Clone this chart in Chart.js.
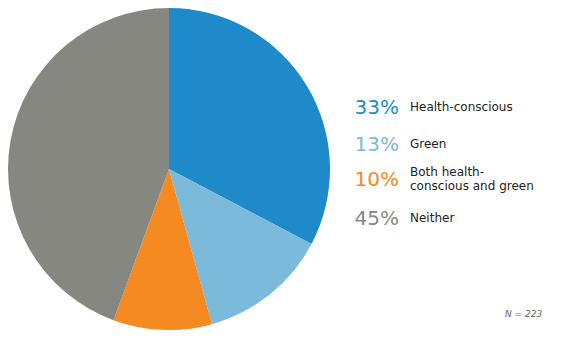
<!DOCTYPE html>
<html>
<head>
<meta charset="utf-8">
<script src="https://cdn.jsdelivr.net/npm/chart.js@4"></script>
<style>
  html, body { margin: 0; padding: 0; background: #fff; }
  body { width: 576px; height: 351px; position: relative; overflow: hidden; font-family: "DejaVu Sans", Verdana, sans-serif; }
  #wrap { position: absolute; left: 0; top: 0; width: 338px; height: 338px; }
  #legend { position: absolute; left: 345px; top: 92px; }
  .row { display: flex; align-items: center; position: absolute; left: 0; white-space: nowrap; }
  .pct { width: 54px; text-align: right; font-size: 20px; margin-right: 11px; }
  .lbl { font-size: 12px; color: #222; line-height: 14px; }
  #note { position: absolute; left: 505px; top: 309px; font-size: 9px; font-style: italic; color: #666; }
</style>
</head>
<body>
<div id="wrap"><canvas id="pieChart"></canvas></div>
<div id="legend"></div>
<div id="note">N = 223</div>
<script>
var categories = ['Health-conscious', 'Green', 'Both health-\nconscious and green', 'Neither'];
var shares = [32.7, 13.0, 9.9, 44.4];
var pctLabels = ['33%', '13%', '10%', '45%'];
var colors = ['#1f8ac9', '#7bbada', '#f58a22', '#878782'];
var rowTops = [3, 40, 73, 114];

var legend = document.getElementById('legend');
categories.forEach(function (c, i) {
    var row = document.createElement('div');
    row.className = 'row';
    row.style.top = rowTops[i] + 'px';
    row.innerHTML = '<span class="pct" style="color:' + colors[i] + '">' + pctLabels[i] + '</span>' +
        '<span class="lbl">' + c.replace('\n', '<br>') + '</span>';
    legend.appendChild(row);
});

var ctx = document.getElementById('pieChart').getContext('2d');
var pieChart = new Chart(ctx, {
    type: 'pie',
    data: {
        labels: categories,
        datasets: [{
            data: shares,
            backgroundColor: colors,
            borderWidth: 0
        }]
    },
    options: {
        responsive: true,
        maintainAspectRatio: false,
        animation: false,
        layout: { padding: 8 },
        plugins: {
            legend: { display: false },
            tooltip: { enabled: false }
        }
    }
});
</script>
</body>
</html>
